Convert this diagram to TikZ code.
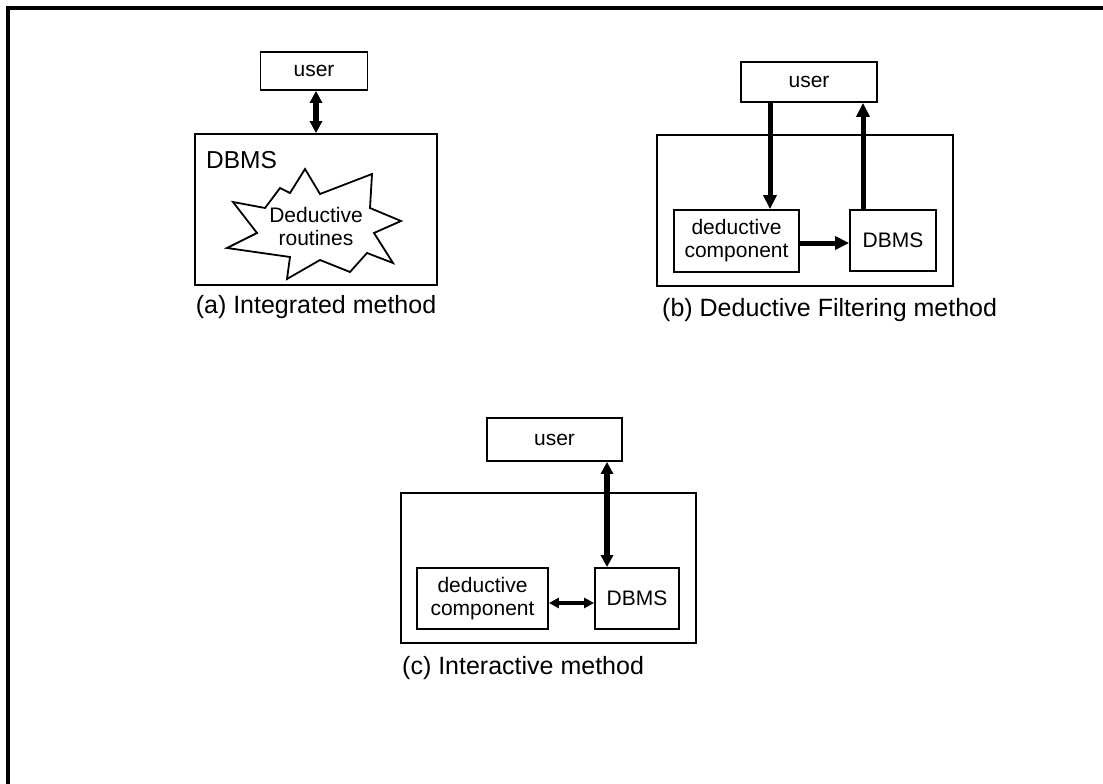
\documentclass[tikz,border=0pt]{standalone}
\usepackage{fontspec}
\setmainfont{Liberation Sans}
\usetikzlibrary{arrows.meta}
\begin{document}
\begin{tikzpicture}[x=1pt,y=-1pt,
  box/.style={draw,line width=1.8pt,inner sep=0pt,align=center,
    font=\fontsize{21}{23}\selectfont},
  frame/.style={draw,line width=1.8pt,inner sep=0pt},
  caption/.style={inner sep=0pt,font=\fontsize{25}{28}\selectfont},
  arr/.style={line width=5pt,-{Triangle[length=14pt,width=13pt]}},
  dblarr/.style={line width=5.5pt,{Triangle[length=12pt,width=12pt]}-{Triangle[length=12pt,width=12pt]}},
  thinarr/.style={line width=3.5pt,{Triangle[length=10pt,width=10pt]}-{Triangle[length=10pt,width=10pt]}}]
\useasboundingbox (0,0) rectangle (1103,784);
% page frame: top and left edges only
\draw[line width=3.5pt] (8,784) -- (8,8) -- (1103,8);

% (a) integrated method
\node[box,minimum width=107pt,minimum height=38pt] (userA) at (314,71) {user};
\node[frame,minimum width=242pt,minimum height=151pt] (dbmsA) at (316,209.5) {};
\node[anchor=west,inner sep=0pt,font=\fontsize{24.5}{27}\selectfont] (dbmsAlbl) at (206,160) {DBMS};
\draw[line width=1.8pt,line join=miter]
  (305,169) -- (320,194) -- (372,174) -- (370,208) -- (401,221) -- (374,233)
  -- (393,263) -- (367,253) -- (350,272) -- (320,260) -- (287,279) -- (290,257)
  -- (227,248) -- (257,233) -- (233,202) -- (265,208) -- (280,188) -- (290,193) -- cycle;
\node[inner sep=0pt,align=center,font=\fontsize{21}{23}\selectfont] (routines) at (316,226) {Deductive\\routines};
\draw[dblarr] (dbmsA.north |- userA.south) -- (dbmsA.north);
\node[caption] (capA) at (316,307) {(a) Integrated method};

% (b) deductive filtering method
\node[box,minimum width=136pt,minimum height=40pt] (userB) at (809,82) {user};
\node[frame,minimum width=296pt,minimum height=151pt] (outerB) at (805,210.5) {};
\node[box,minimum width=125pt,minimum height=62pt] (dedB) at (736.5,241) {deductive\\component};
\node[box,minimum width=86pt,minimum height=61pt] (dbmsB) at (893,240.5) {DBMS};
\draw[arr] ([xshift=33.5pt]dedB.north |- userB.south) -- ([xshift=33.5pt]dedB.north);
\draw[arr] ([xshift=-30pt]dbmsB.north) -- ([xshift=-30pt]dbmsB.north |- userB.south);
\draw[arr] ([yshift=-2pt]dedB.east) -- ([yshift=-2pt]dedB.east -| dbmsB.west);
\node[caption,anchor=west] (capB) at (662,310) {(b) Deductive Filtering method};

% (c) interactive method
\node[box,minimum width=135pt,minimum height=43pt] (userC) at (554.5,439.5) {user};
\node[frame,minimum width=295pt,minimum height=150pt] (outerC) at (548.5,568) {};
\node[box,minimum width=131pt,minimum height=61pt] (dedC) at (482.5,598.5) {deductive\\component};
\node[box,minimum width=84pt,minimum height=61pt] (dbmsC) at (637,598.5) {DBMS};
\draw[dblarr] ([xshift=-30pt]dbmsC.north |- userC.south) -- ([xshift=-30pt]dbmsC.north);
\draw[thinarr] ([yshift=-4.5pt]dedC.east) -- ([yshift=-4.5pt]dedC.east -| dbmsC.west);
\node[caption,anchor=west] (capC) at (402,668) {(c) Interactive method};
\end{tikzpicture}
\end{document}
